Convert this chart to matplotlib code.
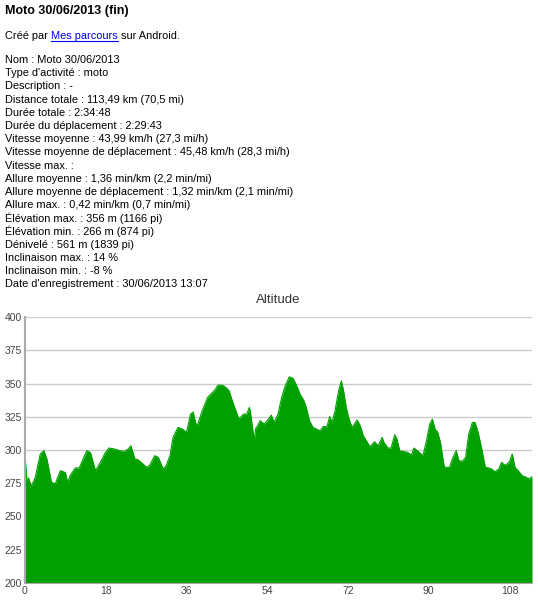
import numpy as np
import matplotlib
matplotlib.use('Agg')
import matplotlib.pyplot as plt
from matplotlib.lines import Line2D

plt.rcParams['font.family'] = ['Liberation Sans', 'DejaVu Sans']

# Page text
title = 'Moto 30/06/2013 (fin)'
created_before = 'Créé par'
created_link = 'Mes parcours'
created_after = 'sur Android.'
info_lines = [
    'Nom : Moto 30/06/2013',
    "Type d'activité : moto",
    'Description : -',
    'Distance totale : 113,49 km (70,5 mi)',
    'Durée totale : 2:34:48',
    'Durée du déplacement : 2:29:43',
    'Vitesse moyenne : 43,99 km/h (27,3 mi/h)',
    'Vitesse moyenne de déplacement : 45,48 km/h (28,3 mi/h)',
    'Vitesse max. :',
    'Allure moyenne : 1,36 min/km (2,2 min/mi)',
    'Allure moyenne de déplacement : 1,32 min/km (2,1 min/mi)',
    'Allure max. : 0,42 min/km (0,7 min/mi)',
    'Élévation max. : 356 m (1166 pi)',
    'Élévation min. : 266 m (874 pi)',
    'Dénivelé : 561 m (1839 pi)',
    'Inclinaison max. : 14 %',
    'Inclinaison min. : -8 %',
    "Date d'enregistrement : 30/06/2013 13:07",
]

# Altitude profile (distance in km, altitude in m)
km = [0, 0.45, 0.8, 1.4, 2.3, 3.4, 4.2, 4.9, 5.9, 6.8, 7.0, 7.9, 9.0, 9.5, 10.1,
      11.2, 12.1, 13.1, 13.8, 14.6, 15.7, 16.8, 17.9, 18.7, 20.0, 21.1, 22.2,
      23.0, 23.6, 24.5, 25.2, 25.9, 27.1, 27.8, 28.9, 29.7, 30.8, 31.5, 32.3,
      33.0, 34.1, 35.2, 36.0, 36.9, 37.5, 38.0, 38.4, 39.5, 40.7, 41.4, 42.3,
      43.0, 44.0, 44.8, 45.5, 46.2, 47.0, 47.7, 48.7, 49.4, 50.0, 50.2, 50.7,
      51.1, 51.4, 51.8, 52.4, 53.3, 54.0, 54.9, 55.5, 56.4, 57.2, 58.0, 58.9,
      59.7, 60.4, 61.3, 62.1, 62.7, 63.4, 64.2, 65.1, 65.8, 66.5, 67.3, 67.9,
      68.4, 69.1, 69.9, 70.5, 71.0, 71.6, 72.1, 72.9, 73.4, 74.0, 74.7, 75.4,
      76.3, 76.9, 77.9, 78.7, 79.6, 80.0, 80.9, 81.6, 82.4, 82.9, 83.5, 84.2,
      85.3, 86.1, 86.7, 87.6, 88.7, 89.4, 90.2, 90.8, 91.4, 92.0, 92.6, 93.2,
      93.5, 94.6, 95.4, 96.1, 96.7, 97.5, 98.2, 98.9, 99.7, 100.3, 101.0,
      101.8, 102.6, 103.4, 104.0, 104.7, 105.6, 106.2, 107.0, 107.9, 108.6,
      109.2, 109.9, 110.8, 111.7, 112.3, 113.0]
alt = [296, 275.7, 279, 272.5, 279.5, 297, 299.5, 293, 275.7, 274.5, 277, 284.5,
       283, 275.7, 281, 286.5, 286.5, 294.5, 299.5, 298, 284.5, 290.7, 298,
       301.5, 300.7, 299.5, 299, 300.7, 303.2, 293.2, 292.7, 290.7, 287, 288.5,
       295.7, 294.5, 285.7, 288.5, 295.7, 309.5, 317, 315.5, 313.2, 327, 328.5,
       320.7, 318.2, 329.5, 339.5, 342, 345, 348.7, 348.7, 347, 344.5, 337,
       329.5, 323.2, 327, 327, 332, 329.5, 317, 307, 316, 318, 322, 319.5, 322,
       326.2, 320.7, 327, 339.5, 348.2, 355, 354, 349.5, 342, 337.5, 332, 322,
       317, 315.5, 314.5, 317.7, 317.5, 325.2, 320.7, 329.5, 344.5, 352, 344.5,
       332, 324.5, 317, 319.5, 322.5, 318.5, 310.7, 305.7, 302.5, 306.2, 303.2,
       309.5, 305.7, 301.5, 301.5, 311.5, 308.2, 299.5, 299, 298.2, 296.2,
       301.5, 299, 295.7, 305.7, 319.5, 323.2, 315.7, 313.2, 305.7, 292, 287,
       287, 294.5, 299.5, 292, 291.5, 294.5, 312, 320.7, 320.7, 313.2, 300.7,
       287, 286.5, 285.7, 283.7, 285.7, 290.7, 288.5, 290.7, 297, 287, 284.5,
       280.7, 279.5, 278.2, 280]
y_ticks = [200, 225, 250, 275, 300, 325, 350, 375, 400]
x_ticks = [0, 18, 36, 54, 72, 90, 108]

W, H = 538, 600
fig = plt.figure(figsize=(W / 100, H / 100), dpi=100)
fig.patch.set_facecolor('white')


def fx(x):
    return x / W


def fy(y):
    return 1 - y / H


fs = 7.9
fig.text(fx(5), fy(11), title, fontsize=9.0, fontweight='bold', va='center')

# "Créé par Mes parcours sur Android." with the link in blue
link_color = '#0000ee'
t1 = fig.text(fx(5), fy(36), created_before, fontsize=fs, va='center')
fig.canvas.draw()
renderer = fig.canvas.get_renderer()
space = 3
b1 = t1.get_window_extent(renderer)
t2 = fig.text(b1.x1 / W + space / W, fy(36), created_link, fontsize=fs,
              va='center', color=link_color)
b2 = t2.get_window_extent(renderer)
fig.text(b2.x1 / W + space / W, fy(36), created_after, fontsize=fs, va='center')
fig.add_artist(Line2D([b2.x0 / W, b2.x1 / W], [fy(40.5)] * 2,
                      transform=fig.transFigure, color=link_color, lw=0.8))

for i, line in enumerate(info_lines):
    fig.text(fx(5), fy(60 + 13.2 * i), line, fontsize=fs, va='center')

# Altitude chart
fig.text(fx(278), fy(300), 'Altitude', ha='center', va='center',
         fontsize=9.5, color='#333333')

ax = fig.add_axes([fx(25), 17 / H, 507 / W, 266 / H])
ax.fill_between(km, alt, 200, color='#00a000', lw=0, zorder=2)
ax.plot(km, alt, color='#00a000', lw=0.8, zorder=2)
ax.set_xlim(0, km[-1])
ax.set_ylim(200, 400)
ax.set_yticks(y_ticks)
ax.set_xticks(x_ticks)
ax.yaxis.grid(True, color='#cccccc', lw=1)
ax.set_axisbelow(True)
for side in ['top', 'right']:
    ax.spines[side].set_visible(False)
ax.spines['left'].set_color('#aaaaaa')
ax.spines['left'].set_linewidth(1.5)
ax.spines['bottom'].set_color('#aaaaaa')
ax.tick_params(length=0, labelsize=7.5, colors='#444444', pad=2)

plt.savefig('out.png', dpi=100)
